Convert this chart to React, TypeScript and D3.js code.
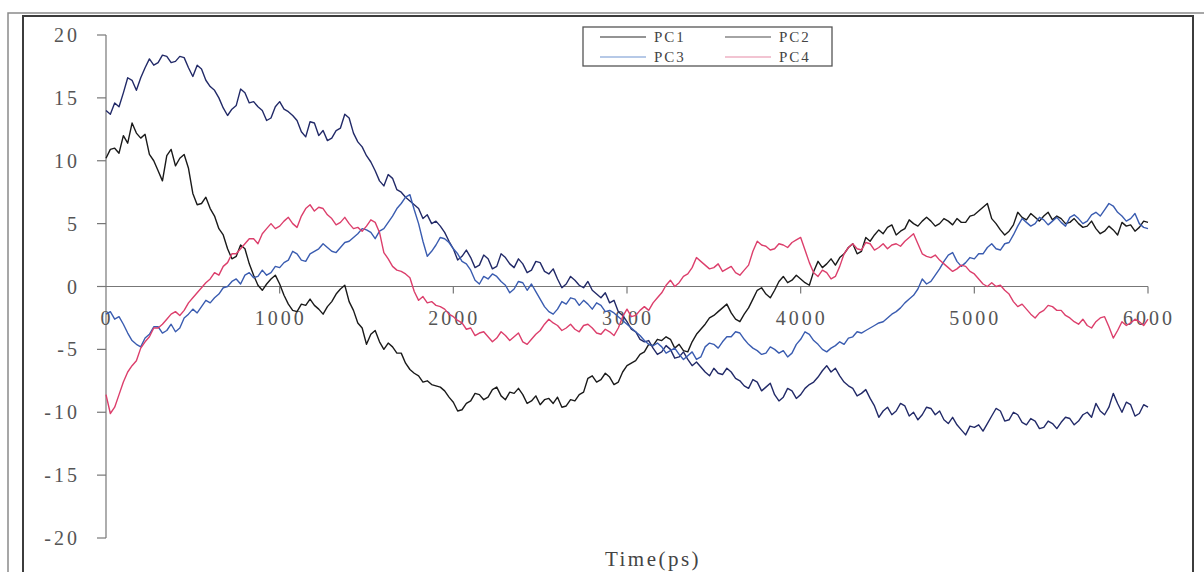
import React from "react";
import * as d3 from "d3";

// Principal component projections sampled every 25 ps over a 6 ns trajectory
const TIME_STEP = 25;
const times: number[] = d3.range(0, 6001, TIME_STEP);

const xTicks = [0, 1000, 2000, 3000, 4000, 5000, 6000];
const yTicks = [-20, -15, -10, -5, 0, 5, 10, 15, 20];
const seriesNames = ["PC1", "PC2", "PC3", "PC4"];

// one row per 500 ps
const pc1 = [
  14.0, 13.7, 14.6, 14.3, 15.4, 16.6, 16.4, 15.6, 16.6, 17.4, 18.1, 17.6, 17.8, 18.4, 18.3, 17.8, 17.9, 18.3, 18.2, 17.4,
  16.7, 17.6, 17.3, 16.4, 15.9, 15.6, 15.0, 14.2, 13.6, 14.1, 14.4, 15.7, 15.4, 14.6, 14.7, 14.3, 14.0, 13.2, 13.4, 14.3,
  14.7, 14.1, 13.9, 13.6, 13.2, 12.3, 11.9, 13.1, 13.0, 12.0, 12.4, 11.6, 11.8, 12.4, 12.6, 13.7, 13.4, 12.2, 11.5, 11.1,
  10.4, 9.9, 9.2, 8.4, 8.0, 8.9, 8.6, 7.7, 7.5, 7.1, 6.8, 6.5, 6.2, 5.4, 5.7, 5.0, 5.2, 4.8, 4.3, 3.6,
  3.0, 2.1, 2.4, 2.9, 2.3, 1.5, 1.7, 2.5, 2.2, 1.4, 1.6, 2.6, 2.3, 1.8, 1.5, 2.2, 1.8, 1.1, 1.3, 2.0,
  1.9, 1.2, 1.0, 1.4, 0.6, -0.1, 0.2, 0.8, 0.5, 0.1, -0.1, 0.4, -0.3, -0.6, -0.9, -0.5, -1.3, -1.1, -2.0, -2.3,
  -2.8, -3.4, -3.6, -4.2, -4.4, -4.3, -4.9, -5.4, -5.2, -4.7, -5.0, -5.7, -5.6, -5.2, -5.8, -6.3, -6.0, -6.4, -6.8, -7.1,
  -6.5, -6.9, -7.0, -6.5, -6.8, -7.3, -7.5, -7.9, -8.1, -7.4, -7.6, -8.3, -8.0, -7.7, -8.6, -9.1, -8.8, -8.1, -8.3, -8.9,
  -8.6, -8.1, -7.8, -7.6, -7.2, -6.7, -6.3, -6.8, -6.5, -7.1, -7.6, -7.9, -8.1, -8.7, -8.5, -8.2, -8.9, -9.5, -10.4, -9.9,
  -9.6, -10.2, -9.9, -9.3, -9.5, -10.3, -10.0, -10.6, -10.2, -9.6, -9.7, -10.2, -9.9, -10.6, -10.9, -10.4, -11.0, -11.4, -11.8, -11.1,
  -11.2, -11.0, -11.5, -10.9, -10.3, -9.7, -9.9, -10.7, -10.6, -10.0, -10.2, -10.8, -11.0, -10.5, -10.7, -11.3, -11.2, -10.7, -10.9, -11.3,
  -10.8, -10.4, -10.5, -11.0, -10.7, -10.2, -10.0, -10.4, -9.3, -9.9, -10.2, -9.6, -8.5, -9.3, -10.0, -9.2, -9.4, -10.3, -10.1, -9.4,
  -9.6,
];

const pc2 = [
  10.2, 10.9, 11.0, 10.6, 12.0, 11.4, 13.0, 12.2, 11.8, 12.1, 10.5, 10.0, 9.2, 8.4, 10.4, 10.9, 9.6, 10.2, 10.5, 9.4,
  7.4, 6.5, 6.6, 7.1, 6.2, 5.6, 4.6, 4.1, 3.0, 2.2, 2.4, 3.3, 3.0, 1.8, 0.9, 0.1, -0.3, 0.2, 0.6, 0.9,
  0.2, -0.7, -1.4, -1.9, -2.0, -1.4, -1.5, -1.0, -1.5, -1.8, -2.2, -1.6, -1.2, -0.6, -0.2, 0.1, -1.2, -1.9, -2.9, -3.3,
  -4.6, -3.8, -3.5, -4.4, -5.0, -4.5, -4.8, -5.3, -5.3, -6.1, -6.6, -6.9, -7.1, -7.6, -7.5, -7.8, -7.9, -8.0, -8.3, -8.8,
  -9.2, -9.9, -9.8, -9.3, -9.1, -8.5, -8.6, -9.0, -8.8, -8.2, -8.0, -8.7, -9.0, -8.4, -8.5, -8.1, -8.6, -9.3, -9.1, -8.7,
  -9.4, -9.0, -8.9, -9.3, -8.8, -9.6, -9.5, -9.0, -9.1, -8.6, -8.4, -7.3, -7.1, -7.6, -7.4, -6.9, -7.2, -7.8, -7.6, -6.8,
  -6.3, -6.1, -5.9, -5.4, -5.2, -4.6, -4.7, -4.2, -4.3, -4.0, -4.2, -4.9, -4.6, -5.1, -5.2, -4.4, -3.8, -3.4, -3.0, -2.5,
  -2.3, -2.0, -1.7, -1.4, -2.1, -2.6, -2.8, -2.2, -1.7, -1.0, -0.3, -0.1, -0.6, -0.9, -0.3, 0.4, 0.8, 0.3, 0.5, 0.9,
  0.6, 0.3, 0.1, 1.2, 2.0, 1.5, 1.8, 2.2, 1.7, 2.3, 2.6, 3.1, 3.4, 2.6, 2.8, 3.9, 3.6, 4.1, 4.5, 4.2,
  4.7, 4.9, 4.1, 4.4, 4.6, 5.3, 5.0, 4.8, 5.2, 5.5, 5.2, 4.8, 5.0, 5.4, 5.2, 4.9, 5.4, 5.1, 5.1, 5.6,
  5.7, 6.0, 6.3, 6.6, 5.4, 5.0, 4.5, 4.1, 4.4, 4.9, 5.9, 5.5, 5.3, 5.8, 5.5, 5.2, 5.6, 5.9, 5.3, 5.6,
  5.4, 5.0, 5.1, 5.4, 5.0, 4.7, 4.8, 5.2, 4.6, 4.2, 4.4, 4.8, 4.5, 4.1, 5.1, 4.8, 4.9, 4.4, 4.7, 5.2,
  5.1,
];

const pc3 = [
  -2.2, -2.0, -2.6, -2.4, -3.0, -3.7, -4.3, -4.6, -4.8, -4.1, -3.8, -3.2, -3.2, -3.7, -3.5, -3.0, -3.6, -3.3, -2.5, -2.2,
  -1.8, -2.1, -1.6, -1.1, -1.3, -0.9, -0.6, -0.1, 0.0, 0.4, 0.6, 0.2, 0.9, 1.1, 0.7, 0.8, 1.3, 0.9, 1.1, 1.6,
  1.5, 1.9, 2.1, 2.8, 2.6, 2.1, 2.0, 2.6, 2.8, 3.0, 3.4, 3.1, 2.8, 2.7, 3.1, 3.5, 3.6, 3.9, 4.2, 4.6,
  4.5, 4.3, 3.8, 4.4, 4.6, 5.1, 5.6, 6.2, 6.6, 7.1, 7.3, 6.1, 5.0, 3.6, 2.4, 2.8, 3.3, 3.9, 3.8, 3.5,
  3.0, 2.6, 2.0, 1.8, 1.3, 0.5, 0.2, 0.8, 0.6, 1.0, 0.8, 0.4, 0.1, -0.5, -0.2, 0.4, 0.3, -0.3, 0.2, -0.4,
  -1.0, -1.6, -2.0, -2.2, -1.8, -1.2, -1.4, -0.9, -1.0, -1.5, -1.1, -1.4, -1.8, -1.3, -1.5, -2.0, -1.9, -2.1, -2.4, -2.7,
  -3.0, -3.3, -3.6, -3.9, -4.3, -4.6, -4.7, -4.5, -4.8, -5.3, -5.1, -4.9, -5.4, -5.8, -5.5, -5.2, -5.8, -5.6, -4.8, -4.5,
  -4.6, -4.9, -4.4, -4.0, -4.0, -3.6, -3.7, -4.2, -4.6, -4.9, -5.1, -5.4, -5.3, -4.8, -5.0, -5.3, -5.1, -5.6, -5.3, -4.6,
  -4.2, -3.6, -3.8, -4.3, -4.6, -5.0, -5.2, -4.9, -4.7, -4.4, -4.6, -4.1, -4.0, -3.6, -3.7, -3.5, -3.3, -3.1, -2.9, -2.8,
  -2.5, -2.2, -2.0, -1.7, -1.3, -1.0, -0.7, -0.2, 0.6, 0.2, 0.4, 0.9, 1.4, 2.0, 2.5, 2.7, 2.0, 1.6, 1.9, 2.3,
  2.2, 2.6, 2.6, 3.1, 3.4, 3.0, 2.9, 3.4, 3.5, 4.1, 4.8, 5.4, 5.1, 4.8, 5.0, 5.5, 5.3, 4.9, 5.2, 5.5,
  5.1, 4.8, 5.5, 5.7, 5.4, 5.0, 5.2, 5.7, 5.9, 5.6, 6.1, 6.6, 6.4, 5.9, 5.6, 5.2, 5.4, 5.8, 5.0, 4.7,
  4.6,
];

const pc4 = [
  -8.6, -10.1, -9.6, -8.6, -7.6, -6.8, -6.3, -5.9, -4.9, -4.4, -4.0, -3.3, -3.3, -3.0, -2.6, -2.2, -2.0, -2.3, -1.9, -1.3,
  -0.9, -0.5, -0.1, 0.3, 0.6, 1.1, 0.9, 1.6, 1.9, 2.6, 2.6, 3.0, 3.4, 3.8, 3.8, 3.4, 4.2, 4.6, 5.0, 4.6,
  4.8, 5.2, 5.5, 5.0, 4.7, 5.6, 6.2, 6.5, 6.0, 6.3, 6.2, 5.7, 5.4, 4.9, 5.1, 5.5, 5.0, 4.6, 4.7, 4.4,
  4.8, 5.3, 5.1, 4.3, 2.7, 2.2, 1.6, 1.3, 1.2, 1.0, 0.7, -0.4, -1.1, -0.8, -1.3, -1.2, -1.5, -1.6, -1.8, -2.2,
  -2.4, -2.7, -2.9, -3.4, -3.3, -3.9, -3.7, -3.6, -4.0, -4.4, -4.1, -3.6, -3.9, -4.3, -4.0, -3.7, -4.4, -4.6, -4.2, -3.8,
  -3.5, -3.0, -2.6, -2.9, -3.1, -3.5, -3.3, -3.0, -3.4, -3.6, -3.1, -3.0, -3.3, -3.7, -3.8, -3.4, -3.6, -3.9, -3.3, -2.4,
  -1.8, -2.4, -2.3, -1.9, -1.6, -1.9, -1.3, -0.9, -0.5, 0.1, 0.5, 0.0, 0.3, 0.8, 1.0, 1.5, 2.3, 2.0, 1.7, 1.4,
  1.5, 1.8, 1.2, 1.4, 1.6, 1.1, 0.9, 1.3, 1.7, 2.8, 3.6, 3.3, 3.2, 2.9, 3.0, 3.4, 3.3, 3.1, 3.5, 3.7,
  3.9, 2.9, 1.9, 1.1, 0.8, 1.3, 1.1, 0.6, 0.8, 1.6, 2.6, 3.1, 3.4, 3.0, 2.9, 3.5, 3.4, 2.9, 3.1, 3.4,
  3.0, 3.3, 3.4, 3.2, 3.6, 3.9, 4.2, 3.4, 2.6, 2.4, 2.3, 2.5, 2.1, 1.8, 1.5, 1.2, 1.4, 1.7, 1.6, 1.2,
  1.0, 0.6, 0.2, 0.0, 0.3, 0.0, 0.1, -0.3, -0.6, -1.2, -1.6, -1.4, -1.8, -2.2, -2.5, -2.1, -1.9, -1.5, -1.6, -1.9,
  -1.9, -2.3, -2.5, -2.8, -3.0, -2.6, -3.1, -3.3, -2.8, -2.5, -2.4, -3.2, -4.1, -3.5, -2.8, -3.1, -2.9, -2.6, -2.8, -3.1,
  -2.6,
];

const seriesValues = [pc1, pc2, pc3, pc4];
const seriesColors = ["#222a68", "#1a1a1a", "#3a5cb0", "#dc3f6c"];
const legendColors = ["#2a2a2a", "#4a4a4a", "#6f93cf", "#e58aa6"];

const W = 1204;
const H = 572;
const FONT = "Times New Roman, Liberation Serif, serif";

export default function App() {
  const x = d3.scaleLinear().domain([0, 6000]).range([106, 1148]);
  const y = d3.scaleLinear().domain([-20, 20]).range([538, 35]);

  const line = d3
    .line<[number, number]>()
    .x((d) => x(d[0]))
    .y((d) => y(d[1]));

  const legendX = 583;
  const legendY = 27;
  const legendW = 249;
  const legendH = 39;

  return (
    <svg
      width={W}
      height={H}
      style={{ position: "absolute", left: 0, top: 0, background: "#fff" }}
    >
      {/* double frame */}
      <path d={`M8,${H} V13 H${W}`} fill="none" stroke="#8a8a8a" strokeWidth={1.5} />
      <path
        d={`M23,${H} V16 H1193 V${H}`}
        fill="none"
        stroke="#3c3c3c"
        strokeWidth={2}
      />

      {/* y axis */}
      <line x1={x(0)} x2={x(0)} y1={y(20)} y2={y(-20)} stroke="#777" strokeWidth={1.2} />
      {yTicks.map((t) => (
        <g key={`y${t}`}>
          <line x1={x(0) - 9} x2={x(0)} y1={y(t)} y2={y(t)} stroke="#777" strokeWidth={1.2} />
          <text
            x={80}
            y={y(t) + 7}
            textAnchor="end"
            fontFamily={FONT}
            fontSize={20}
            letterSpacing={3}
            fill="#555"
          >
            {t}
          </text>
        </g>
      ))}

      {/* x axis along zero */}
      <line x1={x(0)} x2={x(6000)} y1={y(0)} y2={y(0)} stroke="#777" strokeWidth={1.2} />
      {xTicks.map((t) => (
        <g key={`x${t}`}>
          {t > 0 && (
            <line x1={x(t)} x2={x(t)} y1={y(0)} y2={y(0) + 7} stroke="#777" strokeWidth={1.2} />
          )}
          <text
            x={x(t) + 1}
            y={y(0) + 38}
            textAnchor="middle"
            fontFamily={FONT}
            fontSize={20}
            letterSpacing={3}
            fill="#555"
          >
            {t}
          </text>
        </g>
      ))}

      {/* series */}
      {seriesValues.map((vals, i) => (
        <path
          key={seriesNames[i]}
          d={line(vals.map((v, k) => [times[k], v] as [number, number])) || ""}
          fill="none"
          stroke={seriesColors[i]}
          strokeWidth={1.4}
          strokeLinejoin="round"
        />
      ))}

      {/* legend */}
      <rect
        x={legendX}
        y={legendY}
        width={legendW}
        height={legendH}
        fill="#fff"
        stroke="#555"
        strokeWidth={1.3}
      />
      {seriesNames.map((name, i) => {
        const col = i % 2;
        const row = Math.floor(i / 2);
        const lx = legendX + 17 + col * 125;
        const ly = legendY + 10 + row * 20;
        return (
          <g key={`lg${name}`}>
            <line x1={lx} x2={lx + 46} y1={ly} y2={ly} stroke={legendColors[i]} strokeWidth={1.1} />
            <text
              x={lx + 54}
              y={ly + 5}
              fontFamily={FONT}
              fontSize={15}
              letterSpacing={2}
              fill="#444"
            >
              {name}
            </text>
          </g>
        );
      })}

      {/* axis title */}
      <text
        x={653}
        y={566}
        textAnchor="middle"
        fontFamily={FONT}
        fontSize={21}
        letterSpacing={2.5}
        fill="#444"
      >
        Time(ps)
      </text>
    </svg>
  );
}
